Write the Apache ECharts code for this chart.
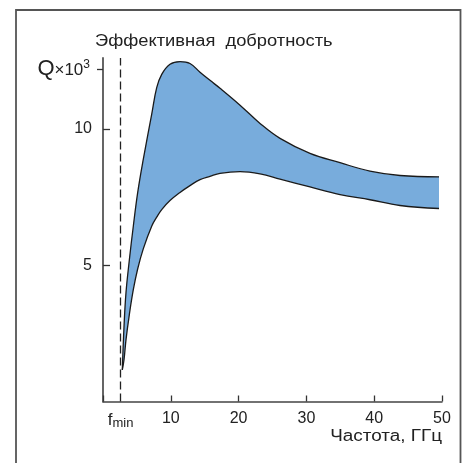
<!DOCTYPE html>
<html><head><meta charset="utf-8">
<script src="https://cdn.jsdelivr.net/npm/echarts@6/dist/echarts.min.js"></script>
<style>html,body{margin:0;padding:0;background:#fff}#c{width:464px;height:463px}</style>
</head><body><div id="c"></div>
<script>
// Data (frequency in GHz, Q in thousands)
const fmin = 2.6;
const freq   = [2.85, 3.10, 3.39, 3.88, 4.47, 5.12, 5.94, 7.18, 7.92, 8.66, 9.88, 11.36, 12.83, 14.31, 15.78, 17.26, 20.21, 23.16, 26.11, 30.53, 34.96, 39.38, 43.81, 49.56];
const qUpper = [1.16, 2.75, 3.99, 5.18, 6.43, 7.67, 8.88, 10.53, 11.51, 12.0, 12.37, 12.47, 12.40, 12.08, 11.78, 11.49, 10.87, 10.20, 9.65, 9.10, 8.76, 8.45, 8.29, 8.24];
const qLower = [1.16, 1.53, 2.26, 3.18, 4.10, 4.87, 5.60, 6.43, 6.76, 7.04, 7.37, 7.67, 7.92, 8.14, 8.26, 8.37, 8.43, 8.35, 8.16, 7.87, 7.59, 7.40, 7.19, 7.08];
const xTickStep = 10;
const xLabels = [fmin, 10, 20, 30, 40, 50];
const yTicks = [5, 10];
const qTick = 12.2;

const font = 'Liberation Sans, Arial, sans-serif';
const chart = echarts.init(document.getElementById('c'));
chart.setOption({
  animation: false,
  backgroundColor: '#fff',
  grid: { left: 103, right: 22, top: 58, bottom: 61.5 },
  xAxis: {
    type: 'value', min: 0, max: 50, interval: xTickStep,
    axisLine: { show: true, lineStyle: { color: '#444', width: 1.5 } },
    splitLine: { show: false },
    axisTick: { show: true, inside: true, length: 6, lineStyle: { color: '#333', width: 1.3 } },
    axisLabel: {
      customValues: xLabels, margin: 9, color: '#222', fontSize: 16, fontFamily: font,
      formatter: v => v < 5 ? '{f|f}{s|min}' : String(v),
      rich: { f: { fontSize: 17, fontFamily: font, color: '#222' }, s: { fontSize: 13, fontFamily: font, color: '#222', padding: [6, 0, 0, 0] } }
    }
  },
  yAxis: [{
    type: 'value', min: 0, max: 12.6,
    axisLine: { show: true, lineStyle: { color: '#555', width: 1.8 } },
    splitLine: { show: false },
    axisTick: { show: true, inside: true, length: 7, customValues: yTicks, lineStyle: { color: '#333', width: 1.3 } },
    axisLabel: { customValues: yTicks, margin: 11, color: '#222', fontSize: 16, fontFamily: font }
  }, {
    type: 'value', min: 0, max: 12.6, position: 'left',
    axisLine: { show: false },
    splitLine: { show: false },
    axisTick: { show: true, inside: false, length: 6, customValues: [qTick], lineStyle: { color: '#333', width: 1.3 } },
    axisLabel: {
      customValues: [qTick], margin: 13, fontFamily: font,
      formatter: () => '{q|Q}{t|×10}{p|3}',
      rich: {
        q: { fontSize: 22, fontFamily: font, color: '#222' },
        t: { fontSize: 17, fontFamily: font, color: '#222', padding: [3, 0, 0, 0] },
        p: { fontSize: 12, fontFamily: font, color: '#222', padding: [0, 0, 8, 0] }
      }
    }
  }],
  series: [{
    type: 'line', name: 'lower', smooth: 0.4, symbol: 'none', stack: 'band', z: 3,
    encode: { x: 1, y: 0 },
    data: freq.map((f, i) => [qLower[i], f]),
    lineStyle: { color: '#1a1a1a', width: 1.3 }
  }, {
    type: 'line', name: 'band', smooth: 0.4, symbol: 'none', stack: 'band', z: 2,
    encode: { x: 1, y: 0 },
    data: freq.map((f, i) => [qUpper[i] - qLower[i], f]),
    lineStyle: { color: '#1a1a1a', width: 1.3 },
    areaStyle: { color: '#78acdc', opacity: 1 }
  }, {
    type: 'line', name: 'fmin', data: [], z: 4,
    markLine: {
      silent: true, symbol: 'none', label: { show: false },
      lineStyle: { color: '#222', type: [8, 4], width: 1.3 },
      data: [{ xAxis: fmin }]
    }
  }],
  graphic: [
    { type: 'rect', shape: { x: 16, y: 10, width: 444.5, height: 470 }, style: { fill: 'none', stroke: '#555', lineWidth: 1.8 }, z: 0 },
    { type: 'text', x: 95, y: 42, scaleX: 1.145, style: { text: 'Эффективная  добротность', font: '16px ' + font, fill: '#222', textAlign: 'left', textVerticalAlign: 'middle' } },
    { type: 'text', x: 442, y: 437, scaleX: 1.18, style: { text: 'Частота, ГГц', font: '16px ' + font, fill: '#222', textAlign: 'right', textVerticalAlign: 'middle' } }
  ]
});
</script></body></html>
